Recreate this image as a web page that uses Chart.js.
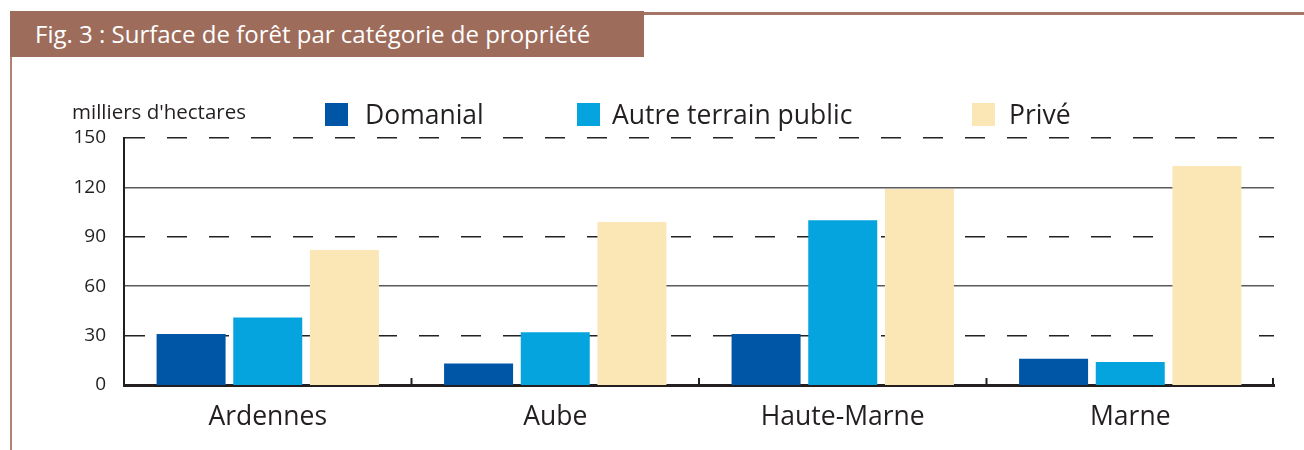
<!DOCTYPE html>
<html lang="fr">
<head>
<meta charset="utf-8">
<title>Fig. 3 : Surface de forêt par catégorie de propriété</title>
<script src="https://cdn.jsdelivr.net/npm/chart.js@4/dist/chart.umd.min.js"></script>
<style>
  body { margin: 0; background: #fff; }
  #wrap { position: relative; width: 1304px; height: 450px; overflow: hidden;
          font-family: "Open Sans", sans-serif; color: #231F20; }
  #titlebar { position: absolute; left: 10px; top: 11px; width: 634px; height: 46px;
              background: #9E6C5B; color: #fff; font-size: 24px; line-height: 46px;
              padding-left: 25px; box-sizing: border-box; white-space: nowrap; }
  #topline { position: absolute; left: 644px; top: 12px; right: 0; height: 3px; background: #A47565; }
  #leftline { position: absolute; left: 10px; top: 57px; width: 2px; bottom: 0; background: #B08272; }
  #unit { position: absolute; left: 72px; top: 97px; font-size: 20.5px; white-space: nowrap; }
  #chart { position: absolute; left: 0; top: 0; }
  .leg { position: absolute; top: 98px; font-size: 26.5px; line-height: 32px; white-space: nowrap; }
  .leg span.box { position: absolute; top: 5px; width: 23px; height: 23px; }
</style>
</head>
<body>
<div id="wrap">
  <canvas id="chart" width="1304" height="450"></canvas>
  <div id="titlebar">Fig. 3 : Surface de forêt par catégorie de propriété</div>
  <div id="topline"></div>
  <div id="leftline"></div>
  <div id="unit">milliers d'hectares</div>
  <div id="legend"></div>
</div>
<script>
// data
const categories = ['Ardennes', 'Aube', 'Haute-Marne', 'Marne'];
const domanial = [31, 13, 31, 16];
const autrePublic = [41, 32, 100, 14];
const prive = [82, 99, 119, 133];
const seriesNames = ['Domanial', 'Autre terrain public', 'Privé'];
const yTicks = [0, 30, 60, 90, 120, 150];
const dashedTicks = [30, 90, 150];

const colors = ['#0056A6', '#05A4DF', '#FAE7B5'];
const legendLeft = [325, 577, 972];
const textColor = '#231F20';

// small upward ticks on the x axis, between the categories
const xTicksUp = {
  id: 'xTicksUp',
  afterDraw(chart) {
    const x = chart.scales.x;
    const ctx = chart.ctx;
    const bottom = chart.chartArea.bottom;
    ctx.save();
    ctx.strokeStyle = textColor;
    ctx.lineWidth = 2;
    for (let i = 0; i < categories.length; i++) {
      let px;
      if (i < categories.length - 1) {
        px = (x.getPixelForValue(i) + x.getPixelForValue(i + 1)) / 2;
      } else {
        px = chart.chartArea.right - 1;
      }
      ctx.beginPath();
      ctx.moveTo(px, bottom);
      ctx.lineTo(px, bottom - 7);
      ctx.stroke();
    }
    ctx.restore();
  }
};

const ctx = document.getElementById('chart');

const chart = new Chart(ctx, {
  type: 'bar',
  data: {
    labels: categories,
    datasets: [
      { label: seriesNames[0], data: domanial, backgroundColor: colors[0] },
      { label: seriesNames[1], data: autrePublic, backgroundColor: colors[1] },
      { label: seriesNames[2], data: prive, backgroundColor: colors[2] }
    ]
  },
  options: {
    responsive: false,
    animation: false,
    layout: { padding: { top: 138, right: 30, left: 0, bottom: 0 } },
    plugins: {
      legend: { display: false },
      tooltip: { enabled: false }
    },
    scales: {
      x: {
        z: 1,
        grid: { display: false, drawTicks: false },
        border: { display: true, color: textColor, width: 3 },
        ticks: {
          color: textColor,
          padding: 17,
          font: { family: 'Open Sans', size: 26.5 }
        },
        afterFit(scale) { scale.height = 65; }
      },
      y: {
        min: 0,
        max: 150,
        afterBuildTicks(scale) { scale.ticks = yTicks.map(v => ({ value: v })); },
        ticks: {
          color: textColor,
          padding: 18,
          font: { family: 'Open Sans', size: 19 }
        },
        grid: {
          drawTicks: false,
          color: c => dashedTicks.includes(c.tick && c.tick.value) ? '#222' : '#5a5a5a',
          lineWidth: c => (c.tick && c.tick.value === 0) ? 0 : 1.6
        },
        border: {
          display: true,
          color: textColor,
          width: 2,
          dash: c => (c.tick && dashedTicks.includes(c.tick.value)) ? [20, 22] : []
        },
        afterFit(scale) { scale.width = 124; }
      }
    }
  },
  plugins: [xTicksUp]
});

// legend
const legend = document.getElementById('legend');
chart.data.datasets.forEach((ds, i) => {
  const item = document.createElement('div');
  item.className = 'leg';
  item.style.left = legendLeft[i] + 'px';
  item.style.paddingLeft = (i === 2 ? 37 : (i === 1 ? 35 : 40)) + 'px';
  const box = document.createElement('span');
  box.className = 'box';
  box.style.left = '0px';
  box.style.background = ds.backgroundColor;
  item.appendChild(box);
  item.appendChild(document.createTextNode(ds.label));
  legend.appendChild(item);
});
</script>
</body>
</html>
